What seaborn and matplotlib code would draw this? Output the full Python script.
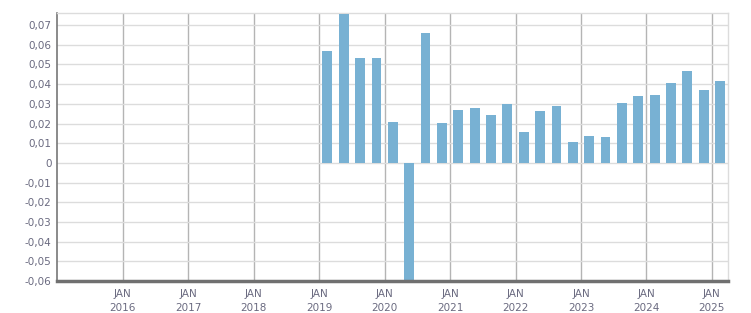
import matplotlib
matplotlib.use("Agg")
import matplotlib.pyplot as plt
import seaborn as sns
import numpy as np
import pandas as pd

# ---- data ----
quarters = ["2019-Q1", "2019-Q2", "2019-Q3", "2019-Q4",
            "2020-Q1", "2020-Q2", "2020-Q3", "2020-Q4",
            "2021-Q1", "2021-Q2", "2021-Q3", "2021-Q4",
            "2022-Q1", "2022-Q2", "2022-Q3", "2022-Q4",
            "2023-Q1", "2023-Q2", "2023-Q3", "2023-Q4",
            "2024-Q1", "2024-Q2", "2024-Q3", "2024-Q4",
            "2025-Q1"]
values = [0.0566, 0.0756, 0.0531, 0.0531,
          0.0209, -0.0620, 0.0658, 0.0204,
          0.0270, 0.0281, 0.0245, 0.0301,
          0.0158, 0.0265, 0.0291, 0.0107,
          0.0138, 0.0133, 0.0306, 0.0342,
          0.0347, 0.0408, 0.0469, 0.0372,
          0.0418]
year_ticks = list(range(2016, 2026))
year_labels = [f"JAN\n{y}" for y in year_ticks]
y_ticks = [-0.06, -0.05, -0.04, -0.03, -0.02, -0.01, 0, 0.01, 0.02, 0.03, 0.04, 0.05, 0.06, 0.07]

# mid-quarter decimal year positions
def mid_quarter(q):
    y, qq = q.split("-Q")
    return int(y) + (int(qq) - 1) * 0.25 + 0.125

df = pd.DataFrame({"t": [mid_quarter(q) for q in quarters], "v": values})

sns.set_style("white")
plt.rcParams["font.family"] = ["DejaVu Sans"]

fig = plt.figure(figsize=(7.51, 3.13), dpi=100)
W, H = 751, 313
left, right, top, bottom = 57.3, 728.3, 13.3, 281.0
ax = fig.add_axes([left / W, 1 - bottom / H, (right - left) / W, (bottom - top) / H])

sns.barplot(data=df, x="t", y="v", native_scale=True, color="#78b1d3",
            saturation=1, width=0.6, errorbar=None, ax=ax, zorder=3,
            linewidth=0)

ax.set_xlim(2015.0, 2025.25)
ax.set_ylim(-0.06, 0.0760)
ax.set_xlabel("")
ax.set_ylabel("")

ax.set_xticks(year_ticks)
ax.set_xticklabels(year_labels)
ax.set_xticks(np.arange(2015.0, 2025.26, 0.25), minor=True)
ax.set_yticks(y_ticks)
ax.set_yticklabels(["0" if v == 0 else f"{v:.2f}".replace(".", ",") for v in y_ticks])

lab_col = "#6a6a80"
ax.tick_params(axis="x", which="major", length=4.5, width=1, color="#777777",
               labelsize=7.5, labelcolor=lab_col, pad=1.5)
ax.tick_params(axis="x", which="minor", length=4, width=1, color="#888888")
ax.tick_params(axis="y", which="major", length=3, width=1, color="#888888",
               labelsize=7.5, labelcolor=lab_col, pad=1)
for lab in ax.get_xticklabels():
    lab.set_linespacing(1.5)

ax.grid(axis="y", color="#dcdcdc", linewidth=1, zorder=0)
ax.grid(axis="x", which="major", color="#b4b4b4", linewidth=1, zorder=1)
ax.set_axisbelow(True)

ax.spines["left"].set_color("#777777")
ax.spines["left"].set_linewidth(1.2)
ax.spines["bottom"].set_color("#707070")
ax.spines["bottom"].set_linewidth(2.5)
ax.spines["bottom"].set_zorder(5)
ax.spines["top"].set_color("#dcdcdc")
ax.spines["top"].set_linewidth(1)
ax.spines["right"].set_color("#dcdcdc")
ax.spines["right"].set_linewidth(1)

fig.savefig("out.png", dpi=100)
